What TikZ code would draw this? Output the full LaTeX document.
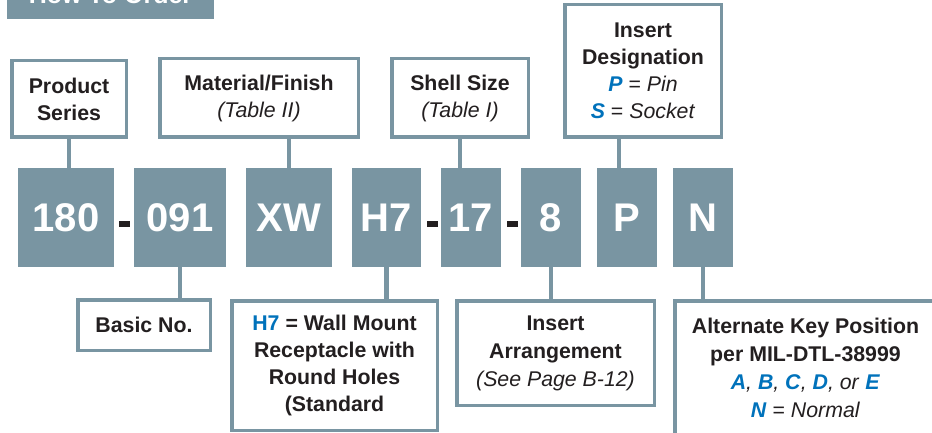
\documentclass[tikz,border=0pt]{standalone}
\usepackage{fontspec}
\setmainfont{Liberation Sans}
\definecolor{frame}{RGB}{121,149,162}
\definecolor{ink}{RGB}{35,31,32}
\definecolor{accent}{RGB}{0,114,187}
\newcommand{\bl}[1]{\textcolor{accent}{\textbf{\textit{#1}}}}
\begin{document}
\begin{tikzpicture}[x=1pt,y=-1pt,
  labelbox/.style={draw=frame, line width=3.5pt, fill=white, align=center, inner sep=0pt, text=ink, font=\fontsize{21.3}{27}\selectfont},
  codebox/.style={fill=frame, text=white, font=\fontsize{40}{40}\selectfont\bfseries, inner sep=0pt, minimum height=99pt},
  dashbar/.style={fill=ink, inner sep=0pt, minimum width=11pt, minimum height=6pt},
  titlebox/.style={fill=frame, text=white, font=\fontsize{25}{25}\selectfont\bfseries, inner sep=0pt, minimum width=207pt, minimum height=49pt},
  link/.style={draw=frame, line width=4.5pt}]
\useasboundingbox (0,0) rectangle (932,433);
\clip (0,0) rectangle (932,433);

\node[titlebox] (title) at (110.5,-5.5) {How To Order};

% top label boxes
\node[labelbox, minimum width=114.5pt, minimum height=76.5pt] (ps) at (69,99) {\textbf{Product}\\\textbf{Series}};
\node[labelbox, minimum width=198.5pt, minimum height=78.5pt] (mf) at (259,98) {\textbf{Material/Finish}\\\textit{(Table II)}};
\node[labelbox, minimum width=136.5pt, minimum height=78.5pt] (ss) at (460,98) {\textbf{Shell Size}\\\textit{(Table I)}};
\node[labelbox, minimum width=156.5pt, minimum height=132.5pt] (id) at (643,71) {\textbf{Insert}\\\textbf{Designation}\\\bl{P} = \textit{Pin}\\\bl{S} = \textit{Socket}};

% code boxes
\node[codebox, minimum width=96pt] (c180) at (66,217.5) {180};
\node[dashbar] (d1) at (124.5,223.5) {};
\node[codebox, minimum width=92pt] (c091) at (180,217.5) {091};
\node[codebox, minimum width=86pt] (cXW) at (289,217.5) {XW};
\node[codebox, minimum width=69pt] (cH7) at (386.5,217.5) {H7};
\node[dashbar] (d2) at (432.5,223.5) {};
\node[codebox, minimum width=60pt] (c17) at (471,217.5) {17};
\node[dashbar] (d3) at (512,223.5) {};
\node[codebox, minimum width=60pt] (c8) at (551,217.5) {8};
\node[codebox, minimum width=60pt] (cP) at (627,217.5) {P};
\node[codebox, minimum width=60pt] (cN) at (703,217.5) {N};

% bottom label boxes
\node[labelbox, minimum width=132.5pt, minimum height=50.5pt] (bn) at (144,325) {\textbf{Basic No.}};
\node[labelbox, minimum width=205.5pt, minimum height=129.5pt] (h7) at (334.5,365.5) {\textcolor{accent}{\textbf{H7}} \textbf{= Wall Mount}\\\textbf{Receptacle with}\\\textbf{Round Holes}\\\textbf{(Standard}};
\node[labelbox, minimum width=197.5pt, minimum height=104.5pt, font=\fontsize{21.3}{28}\selectfont] (ia) at (555.5,353) {\textbf{Insert}\\\textbf{Arrangement}\\\textit{(See Page B-12)}};
\node[labelbox, minimum width=261.5pt, minimum height=134.5pt, font=\fontsize{21.3}{28}\selectfont] (ak) at (805.5,368) {\textbf{Alternate Key Position}\\\textbf{per MIL-DTL-38999}\\\bl{A}\textit{, }\bl{B}\textit{, }\bl{C}\textit{, }\bl{D}\textit{, or }\bl{E}\\\bl{N} = \textit{Normal}};

% connectors
\draw[link] (ps.south) -- (ps.south |- c180.north);
\draw[link] (cXW.north) -- (cXW.north |- mf.south);
\draw[link] (ss.south) -- (ss.south |- c17.north);
\draw[link] ([xshift=-24pt]id.south) -- ([xshift=-24pt]id.south |- cP.north);
\draw[link] (c091.south) -- (c091.south |- bn.north);
\draw[link] (cH7.south) -- (cH7.south |- h7.north);
\draw[link] (c8.south) -- (c8.south |- ia.north);
\draw[link] (cN.south) -- (cN.south |- ak.north);
\end{tikzpicture}
\end{document}
